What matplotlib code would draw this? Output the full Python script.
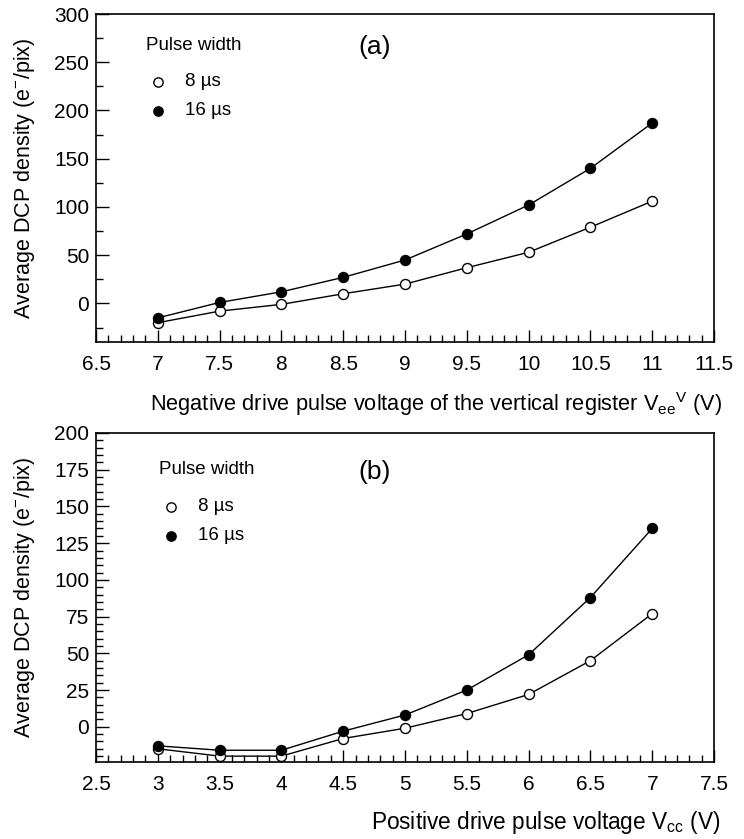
import matplotlib
matplotlib.use('Agg')
import matplotlib.pyplot as plt
from matplotlib.ticker import MultipleLocator, FormatStrFormatter

plt.rcParams['font.family'] = ['Liberation Sans', 'DejaVu Sans']
plt.rcParams['mathtext.fontset'] = 'custom'
plt.rcParams['mathtext.rm'] = 'Liberation Sans'
plt.rcParams['mathtext.it'] = 'Liberation Sans:italic'

# panel (a): negative drive pulse voltage
vee = [7, 7.5, 8, 8.5, 9, 9.5, 10, 10.5, 11]
a_8us = [-20, -8, -1, 10, 20, 37, 53, 79, 106]
a_16us = [-15, 1, 12, 27, 45, 72, 102, 140, 187]

# panel (b): positive drive pulse voltage
vcc = [3, 3.5, 4, 4.5, 5, 5.5, 6, 6.5, 7]
b_8us = [-15, -20, -20, -8, -1, 9, 22, 45, 77]
b_16us = [-13, -16, -16, -3, 8, 25, 49, 88, 135]

labels = ['8 \u00b5s', '16 \u00b5s']

fig = plt.figure(figsize=(7.44, 8.39), dpi=100)
ax1 = fig.add_axes([96 / 744, 1 - 342 / 839, 618 / 744, 328 / 839])
ax2 = fig.add_axes([96 / 744, 1 - 762 / 839, 618 / 744, 329 / 839])

MS = 7.2


def draw(ax, x, y8, y16, tag, lx, ly, tag_y):
    ax.plot(x, y8, color='black', lw=1, zorder=2)
    ax.plot(x, y16, color='black', lw=1, zorder=2)
    ax.plot(x, y8, 'o', ms=MS, mfc='white', mec='black', mew=1, zorder=3)
    ax.plot(x, y16, 'o', ms=MS, mfc='black', mec='black', mew=1, zorder=3)
    ax.tick_params(which='both', direction='in', labelsize=15, width=1)
    ax.tick_params(which='major', length=9)
    ax.tick_params(which='minor', length=5)
    ax.tick_params(axis='x', pad=9)
    ax.tick_params(axis='y', pad=5)
    ax.xaxis.set_major_locator(MultipleLocator(0.5))
    ax.xaxis.set_minor_locator(MultipleLocator(0.1))
    ax.xaxis.set_major_formatter(FormatStrFormatter('%g'))
    for s in ax.spines.values():
        s.set_linewidth(1.2)
    ax.set_ylabel('Average DCP density (e$^{-}$/pix)', fontsize=15.5, labelpad=12)
    ax.text(lx, ly, 'Pulse width', transform=ax.transAxes, fontsize=13.5,
            va='center')
    ax.plot([lx + 0.019], [ly - 0.112], 'o', ms=MS - 0.5, mfc='white', mec='black',
            mew=1, transform=ax.transAxes, clip_on=False)
    ax.plot([lx + 0.019], [ly - 0.2], 'o', ms=MS - 0.5, mfc='black', mec='black',
            mew=1, transform=ax.transAxes, clip_on=False)
    ax.text(lx + 0.063, ly - 0.112, labels[0], transform=ax.transAxes,
            fontsize=13.5, va='center')
    ax.text(lx + 0.063, ly - 0.2, labels[1], transform=ax.transAxes,
            fontsize=13.5, va='center')
    ax.text(0.424, tag_y, tag, transform=ax.transAxes, fontsize=19, va='center')


draw(ax1, vee, a_8us, a_16us, '(a)', 0.081, 0.905, 0.9)
ax1.set_xlim(6.5, 11.5)
ax1.set_ylim(-40, 300)
ax1.yaxis.set_major_locator(MultipleLocator(50))
ax1.yaxis.set_minor_locator(MultipleLocator(25))
ax1.set_xlabel(r'Negative drive pulse voltage of the vertical register V$_{\mathrm{ee}}$$^{\mathrm{V}}$ (V)',
               fontsize=15.7, loc='right', labelpad=12)
ax1.xaxis.label.set_x(1.013)

draw(ax2, vcc, b_8us, b_16us, '(b)', 0.102, 0.888, 0.881)
ax2.set_xlim(2.5, 7.5)
ax2.set_ylim(-24, 200)
ax2.yaxis.set_major_locator(MultipleLocator(25))
ax2.yaxis.set_minor_locator(MultipleLocator(5))
ax2.set_xlabel(r'Positive drive pulse voltage V$_{\mathrm{cc}}$ (V)',
               fontsize=16.3, loc='right', labelpad=11)
ax2.xaxis.label.set_x(1.01)

fig.savefig('out.png', dpi=100)
